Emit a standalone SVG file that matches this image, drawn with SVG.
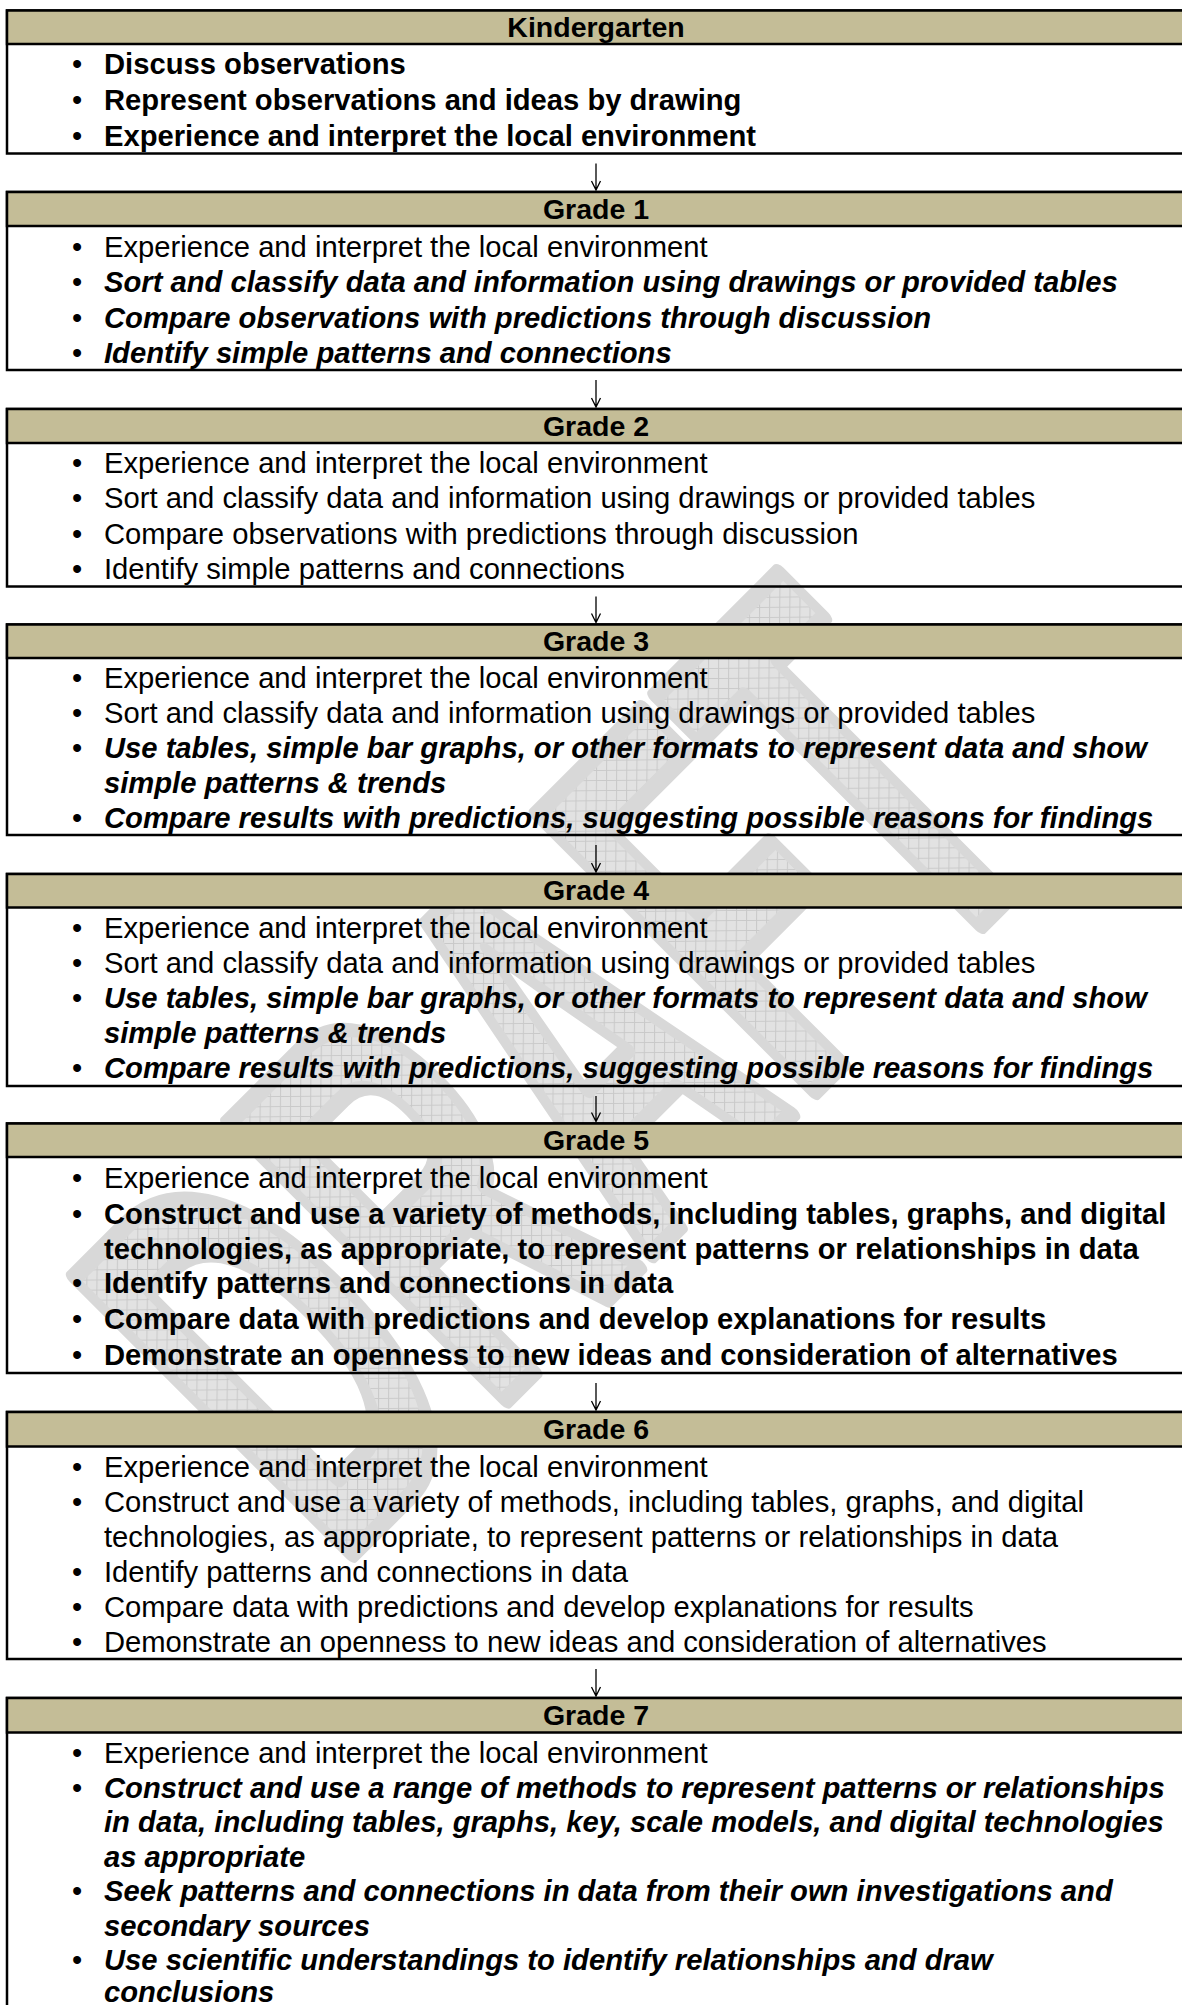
<svg xmlns="http://www.w3.org/2000/svg" width="1182" height="2005" viewBox="0 0 1182 2005">
  <defs>
    <!-- fine grid used to fill the watermark letters (kept upright on the page) -->
    <pattern id="hatch" width="10" height="10" patternUnits="userSpaceOnUse" patternTransform="scale(1.923 1) rotate(45)">
      <rect width="10" height="10" fill="#e2e2e2"/>
      <path d="M0 0.5H10M0.5 0V10" stroke="#c9c9c9" stroke-width="1"/>
    </pattern>
  </defs>
  <style>
    text { font-family: "Liberation Sans", Arial, sans-serif; fill: #000; }
    .hdr { fill: #c4bd97; stroke: #000; stroke-width: 2.5; }
    .box { fill: none; stroke: #000; stroke-width: 2.5; }
    .ht { font-size: 28.5px; font-weight: bold; text-anchor: middle; }
    .li { font-size: 29.2px; }
    .dot { font-size: 29.2px; text-anchor: middle; }
    .b { font-weight: bold; }
    .bi { font-weight: bold; font-style: italic; }
    .arrow { fill: none; stroke: #000; stroke-width: 1.3; }
  </style>

  <rect width="1182" height="2005" fill="#fff"/>

  <!-- DRAFT watermark behind the table -->
  <g id="watermark">
    <text transform="translate(336 1570) rotate(-45) scale(0.53 1)" x="0" y="0" font-size="570" font-weight="bold" stroke="#d8d8d8" stroke-width="18" stroke-linejoin="round" style="fill:url(#hatch)">DRAFT</text>
  </g>

  <!-- Kindergarten -->
  <g id="kindergarten">
    <rect class="box" x="7" y="10.5" width="1190" height="143"/>
    <rect class="hdr" x="7" y="10.5" width="1190" height="33.5"/>
    <text class="ht" x="596" y="36.5">Kindergarten</text>
    <text class="dot" x="77" y="74">•</text><text class="li b" x="104" y="74">Discuss observations</text>
    <text class="dot" x="77" y="110">•</text><text class="li b" x="104" y="110">Represent observations and ideas by drawing</text>
    <text class="dot" x="77" y="146">•</text><text class="li b" x="104" y="146">Experience and interpret the local environment</text>
  </g>

  <!-- Grade 1 -->
  <g id="grade1">
    <rect class="box" x="7" y="192" width="1190" height="178"/>
    <rect class="hdr" x="7" y="192" width="1190" height="34"/>
    <text class="ht" x="596" y="218.5">Grade 1</text>
    <text class="dot" x="77" y="256.5">•</text><text class="li" x="104" y="256.5">Experience and interpret the local environment</text>
    <text class="dot" x="77" y="292">•</text><text class="li bi" x="104" y="292">Sort and classify data and information using drawings or provided tables</text>
    <text class="dot" x="77" y="327.5">•</text><text class="li bi" x="104" y="327.5">Compare observations with predictions through discussion</text>
    <text class="dot" x="77" y="363">•</text><text class="li bi" x="104" y="363">Identify simple patterns and connections</text>
  </g>

  <!-- Grade 2 -->
  <g id="grade2">
    <rect class="box" x="7" y="409" width="1190" height="177.5"/>
    <rect class="hdr" x="7" y="409" width="1190" height="34"/>
    <text class="ht" x="596" y="435.5">Grade 2</text>
    <text class="dot" x="77" y="473">•</text><text class="li" x="104" y="473">Experience and interpret the local environment</text>
    <text class="dot" x="77" y="508">•</text><text class="li" x="104" y="508">Sort and classify data and information using drawings or provided tables</text>
    <text class="dot" x="77" y="543.5">•</text><text class="li" x="104" y="543.5">Compare observations with predictions through discussion</text>
    <text class="dot" x="77" y="578.5">•</text><text class="li" x="104" y="578.5">Identify simple patterns and connections</text>
  </g>

  <!-- Grade 3 -->
  <g id="grade3">
    <rect class="box" x="7" y="624.5" width="1190" height="210.5"/>
    <rect class="hdr" x="7" y="624.5" width="1190" height="33.5"/>
    <text class="ht" x="596" y="650.5">Grade 3</text>
    <text class="dot" x="77" y="688">•</text><text class="li" x="104" y="688">Experience and interpret the local environment</text>
    <text class="dot" x="77" y="723">•</text><text class="li" x="104" y="723">Sort and classify data and information using drawings or provided tables</text>
    <text class="dot" x="77" y="758">•</text><text class="li bi" x="104" y="758">Use tables, simple bar graphs, or other formats to represent data and show</text>
    <text class="li bi" x="104" y="793">simple patterns &amp; trends</text>
    <text class="dot" x="77" y="828">•</text><text class="li bi" x="104" y="828">Compare results with predictions, suggesting possible reasons for findings</text>
  </g>

  <!-- Grade 4 -->
  <g id="grade4">
    <rect class="box" x="7" y="874" width="1190" height="212"/>
    <rect class="hdr" x="7" y="874" width="1190" height="33.5"/>
    <text class="ht" x="596" y="900">Grade 4</text>
    <text class="dot" x="77" y="938">•</text><text class="li" x="104" y="938">Experience and interpret the local environment</text>
    <text class="dot" x="77" y="973">•</text><text class="li" x="104" y="973">Sort and classify data and information using drawings or provided tables</text>
    <text class="dot" x="77" y="1008">•</text><text class="li bi" x="104" y="1008">Use tables, simple bar graphs, or other formats to represent data and show</text>
    <text class="li bi" x="104" y="1043">simple patterns &amp; trends</text>
    <text class="dot" x="77" y="1077.5">•</text><text class="li bi" x="104" y="1077.5">Compare results with predictions, suggesting possible reasons for findings</text>
  </g>

  <!-- Grade 5 -->
  <g id="grade5">
    <rect class="box" x="7" y="1123.5" width="1190" height="249.5"/>
    <rect class="hdr" x="7" y="1123.5" width="1190" height="33.5"/>
    <text class="ht" x="596" y="1149.5">Grade 5</text>
    <text class="dot" x="77" y="1188">•</text><text class="li" x="104" y="1188">Experience and interpret the local environment</text>
    <text class="dot" x="77" y="1223.5">•</text><text class="li b" x="104" y="1223.5">Construct and use a variety of methods, including tables, graphs, and digital</text>
    <text class="li b" x="104" y="1258.5">technologies, as appropriate, to represent patterns or relationships in data</text>
    <text class="dot" x="77" y="1293">•</text><text class="li b" x="104" y="1293">Identify patterns and connections in data</text>
    <text class="dot" x="77" y="1329">•</text><text class="li b" x="104" y="1329">Compare data with predictions and develop explanations for results</text>
    <text class="dot" x="77" y="1364.5">•</text><text class="li b" x="104" y="1364.5">Demonstrate an openness to new ideas and consideration of alternatives</text>
  </g>

  <!-- Grade 6 -->
  <g id="grade6">
    <rect class="box" x="7" y="1412" width="1190" height="247"/>
    <rect class="hdr" x="7" y="1412" width="1190" height="34.5"/>
    <text class="ht" x="596" y="1439">Grade 6</text>
    <text class="dot" x="77" y="1477">•</text><text class="li" x="104" y="1477">Experience and interpret the local environment</text>
    <text class="dot" x="77" y="1512">•</text><text class="li" x="104" y="1512">Construct and use a variety of methods, including tables, graphs, and digital</text>
    <text class="li" x="104" y="1547">technologies, as appropriate, to represent patterns or relationships in data</text>
    <text class="dot" x="77" y="1582">•</text><text class="li" x="104" y="1582">Identify patterns and connections in data</text>
    <text class="dot" x="77" y="1617">•</text><text class="li" x="104" y="1617">Compare data with predictions and develop explanations for results</text>
    <text class="dot" x="77" y="1652">•</text><text class="li" x="104" y="1652">Demonstrate an openness to new ideas and consideration of alternatives</text>
  </g>

  <!-- Grade 7 (continues past the bottom edge) -->
  <g id="grade7">
    <rect class="box" x="7" y="1698" width="1190" height="330"/>
    <rect class="hdr" x="7" y="1698" width="1190" height="34.5"/>
    <text class="ht" x="596" y="1725">Grade 7</text>
    <text class="dot" x="77" y="1763">•</text><text class="li" x="104" y="1763">Experience and interpret the local environment</text>
    <text class="dot" x="77" y="1797.5">•</text><text class="li bi" x="104" y="1797.5">Construct and use a range of methods to represent patterns or relationships</text>
    <text class="li bi" x="104" y="1832">in data, including tables, graphs, key, scale models, and digital technologies</text>
    <text class="li bi" x="104" y="1866.5">as appropriate</text>
    <text class="dot" x="77" y="1901">•</text><text class="li bi" x="104" y="1901">Seek patterns and connections in data from their own investigations and</text>
    <text class="li bi" x="104" y="1935.5">secondary sources</text>
    <text class="dot" x="77" y="1970">•</text><text class="li bi" x="104" y="1970">Use scientific understandings to identify relationships and draw</text>
    <text class="li bi" x="104" y="2002">conclusions</text>
  </g>

  <!-- progression arrows between grades -->
  <g id="connectors">
    <path class="arrow" d="M596 163.5V190M591.5 181L596 190L600.5 181"/>
    <path class="arrow" d="M596 380V407M591.5 398L596 407L600.5 398"/>
    <path class="arrow" d="M596 596.5V622.5M591.5 613.5L596 622.5L600.5 613.5"/>
    <path class="arrow" d="M596 845V872M591.5 863L596 872L600.5 863"/>
    <path class="arrow" d="M596 1096V1121.5M591.5 1112.5L596 1121.5L600.5 1112.5"/>
    <path class="arrow" d="M596 1383V1410M591.5 1401L596 1410L600.5 1401"/>
    <path class="arrow" d="M596 1669V1696M591.5 1687L596 1696L600.5 1687"/>
  </g>
</svg>
